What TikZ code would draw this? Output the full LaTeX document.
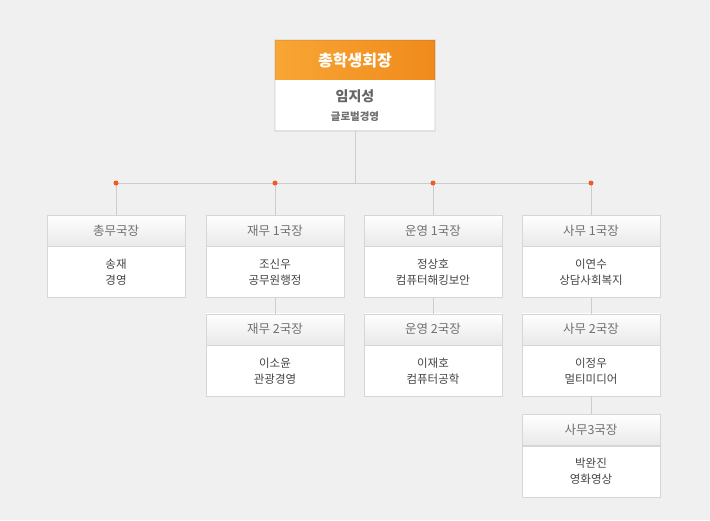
\documentclass[tikz,border=0pt]{standalone}
\usepackage{fontspec}
\setmainfont{Noto Sans CJK KR}
\usepackage{xcolor}
\usetikzlibrary{positioning,calc,shadows}

\definecolor{bggray}{HTML}{F0F0F0}
\definecolor{linegray}{HTML}{CCCCCC}
\definecolor{boxline}{HTML}{D6D6D6}
\definecolor{headgray}{HTML}{E9E9E9}
\definecolor{headtext}{HTML}{707070}
\definecolor{bodytext}{HTML}{444444}
\definecolor{dotred}{HTML}{F05A28}
\definecolor{orangeL}{HTML}{F8A634}
\definecolor{orangeR}{HTML}{F08A1C}

\begin{document}
\begin{tikzpicture}[
    x=1pt, y=-1pt,
    conn/.style={draw=linegray, line width=1pt},
    head/.style={draw=boxline, top color=white, bottom color=headgray, minimum width=138pt,
        minimum height=31pt, inner sep=0pt, text=headtext, font=\fontsize{12.5}{14}\selectfont},
    body/.style={draw=boxline, fill=white, minimum width=138pt, minimum height=51pt,
        inner sep=0pt, align=center, text=bodytext, font=\fontsize{11.5}{16}\selectfont},
    dot/.style={circle, fill=dotred, inner sep=0pt, minimum size=5pt}
]
\fill[bggray] (0,0) rectangle (710,520);
\useasboundingbox (0,0) rectangle (710,520);

% connectors
\coordinate (hub) at (355,183);
\coordinate (d1) at (116,183);
\coordinate (d4) at (591,183);

% president
\node[draw=none, left color=orangeL, right color=orangeR, minimum width=160pt, minimum height=40pt,
    inner sep=0pt, text=white, font=\fontsize{16}{18}\selectfont\bfseries] (pres) at (355,60) {총학생회장};
\node[fill=white, minimum width=160pt, minimum height=50pt, inner sep=0pt, align=center,
    font=\fontsize{14}{19}\selectfont\bfseries, text=headtext!90!black,
    below=0pt of pres] (presb) {임지성\\{\fontsize{10.5}{13}\selectfont\color{headtext}글로벌경영}};
\draw[draw=black, opacity=0.06, line width=2pt] (pres.north west) rectangle (presb.south east);

% first row
\node[head] (h1) at (116,230.5) {총무국장};
\node[body, below=0pt of h1] (b1) {송재\\경영};
\node[head] (h2) at (275,230.5) {재무 1국장};
\node[body, below=0pt of h2] (b2) {조신우\\공무원행정};
\node[head] (h3) at (433,230.5) {운영 1국장};
\node[body, below=0pt of h3] (b3) {정상호\\컴퓨터해킹보안};
\node[head] (h4) at (591,230.5) {사무 1국장};
\node[body, below=0pt of h4] (b4) {이연수\\상담사회복지};

% second row
\node[head, below=16pt of b2] (h5) {재무 2국장};
\node[body, below=0pt of h5] (b5) {이소윤\\관광경영};
\node[head, below=16pt of b3] (h6) {운영 2국장};
\node[body, below=0pt of h6] (b6) {이재호\\컴퓨터공학};
\node[head, below=16pt of b4] (h7) {사무 2국장};
\node[body, below=0pt of h7] (b7) {이정우\\멀티미디어};

% third row
\node[head, below=18pt of b7] (h8) {사무3국장};
\node[body, below=0pt of h8] (b8) {박완진\\영화영상};

\draw[conn] (presb.south) -- (hub);
\draw[conn] (d1) -- (d4);
\draw[conn] (d1) -- (h1.north);
\draw[conn] (h2.north |- hub) -- (h2.north);
\draw[conn] (h3.north |- hub) -- (h3.north);
\draw[conn] (d4) -- (h4.north);
\draw[conn] (b2.south) -- (h5.north);
\draw[conn] (b3.south) -- (h6.north);
\draw[conn] (b4.south) -- (h7.north);
\draw[conn] (b7.south) -- (h8.north);
\foreach \x/\n in {116/1,275/2,433/3,591/4}
    \node[dot] (dot\n) at (\x,183) {};
\end{tikzpicture}
\end{document}
